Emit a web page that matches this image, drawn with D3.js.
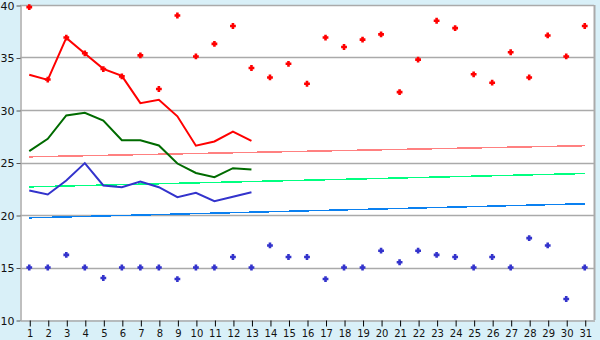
<!DOCTYPE html>
<html>
<head>
<meta charset="utf-8">
<script src="https://cdn.jsdelivr.net/npm/d3@7"></script>
<style>
  body { margin: 0; background: #d9f0f8; }
  svg { display: block; }
  text { font-family: "DejaVu Sans", Verdana, sans-serif; fill: #111; }
</style>
</head>
<body>
<svg id="chart" width="600" height="340"></svg>
<script>
const days = d3.range(1, 32);

// daily maximum (red dots)
const maxDots = [39.8, 32.9, 36.9, 35.4, 33.9, 33.2, 35.2, 32.0, 39.0, 35.1,
  36.3, 38.0, 34.0, 33.1, 34.4, 32.5, 36.9, 36.0, 36.7, 37.2,
  31.7, 34.8, 38.5, 37.8, 33.4, 32.6, 35.5, 33.1, 37.1, 35.1, 38.0];

// daily minimum (blue dots)
const minDots = [15.0, 15.0, 16.2, 15.0, 14.0, 15.0, 15.0, 15.0, 13.9, 15.0,
  15.0, 16.0, 15.0, 17.1, 16.0, 16.0, 13.9, 15.0, 15.0, 16.6,
  15.5, 16.6, 16.2, 16.0, 15.0, 16.0, 15.0, 17.8, 17.1, 12.0, 15.0];

// measured this month, days 1..13
const highLine = [33.35, 32.87, 36.87, 35.38, 33.92, 33.25, 30.65, 30.97, 29.4, 26.6, 27.0, 27.95, 27.05];
const meanLine = [26.08, 27.26, 29.48, 29.73, 29.0, 27.12, 27.12, 26.62, 24.9, 24.0, 23.6, 24.46, 24.33];
const lowLine  = [22.33, 21.95, 23.29, 24.94, 22.81, 22.65, 23.19, 22.65, 21.7, 22.11, 21.31, 21.73, 22.17];

// normal values, first and last day
const normalHigh = [25.54, 26.6];
const normalMean = [22.68, 23.95];
const normalLow  = [19.73, 21.07];

const yTicks = [10, 15, 20, 25, 30, 35, 40];

const width = 600, height = 340;
const margin = { top: 5, right: 6, bottom: 20, left: 20 };

const svg = d3.select("#chart");

const x = d3.scalePoint()
  .domain(days)
  .range([margin.left, width - margin.right])
  .padding(0.5);

const y = d3.scaleLinear()
  .domain([10, 40])
  .range([height - margin.bottom, margin.top]);

// plot background
svg.append("rect")
  .attr("x", margin.left)
  .attr("y", margin.top)
  .attr("width", width - margin.right - margin.left)
  .attr("height", height - margin.bottom - margin.top)
  .attr("fill", "#fff");

// grid
svg.append("g")
  .selectAll("line")
  .data(yTicks.slice(1))
  .enter().append("line")
  .attr("x1", margin.left)
  .attr("x2", width - margin.right)
  .attr("y1", d => Math.round(y(d)) + 0.5)
  .attr("y2", d => Math.round(y(d)) + 0.5)
  .style("stroke", "#aaa")
  .style("stroke-width", 1.5);

// right border
svg.append("line")
  .attr("x1", width - margin.right + 0.5)
  .attr("x2", width - margin.right + 0.5)
  .attr("y1", margin.top)
  .attr("y2", height - margin.bottom)
  .style("stroke", "#aaa")
  .style("stroke-width", 2);

// y axis
const yAxis = svg.append("g")
  .attr("transform", `translate(${margin.left + 0.5},0.5)`)
  .call(d3.axisLeft(y).tickValues(yTicks).tickSize(4).tickSizeOuter(0).tickPadding(2));
yAxis.select(".domain").style("stroke", "#aaa").style("stroke-width", 1.5);
yAxis.selectAll(".tick line").style("stroke", "#555");
yAxis.selectAll("text").style("font-size", "11px").style("fill", "#111");

// x axis
const xAxis = svg.append("g")
  .attr("transform", `translate(0.5,${height - margin.bottom + 0.5})`)
  .call(d3.axisBottom(x).tickSize(6).tickSizeOuter(0).tickPadding(3));
xAxis.select(".domain").style("stroke", "#aaa").style("stroke-width", 1.5);
xAxis.selectAll(".tick line").style("stroke", "#000");
xAxis.selectAll("text").style("font-size", "10px").style("fill", "#111");

// normal lines
const trends = [
  { vals: normalHigh, color: "#ff8080" },
  { vals: normalMean, color: "#00ff80" },
  { vals: normalLow, color: "#0a80f0" }
];
const ends = [days[0], days[days.length - 1]];
svg.append("g")
  .selectAll("line")
  .data(trends)
  .enter().append("line")
  .attr("x1", x(ends[0]))
  .attr("x2", x(ends[1]))
  .attr("y1", d => y(d.vals[0]))
  .attr("y2", d => y(d.vals[1]))
  .style("stroke", d => d.color)
  .style("stroke-width", 1.5)
  .style("shape-rendering", "crispEdges");

// measured lines
const line = d3.line()
  .x((d, i) => x(days[i]))
  .y(d => y(d));

[
  { vals: highLine, color: "#ff0000" },
  { vals: meanLine, color: "#006b00" },
  { vals: lowLine, color: "#3333cc" }
].forEach(s => {
  svg.append("path")
    .attr("d", line(s.vals))
    .attr("fill", "none")
    .style("stroke", s.color)
    .style("stroke-width", 2);
});

// dots: chunky plus marker
const a = 1.3, b = 2.9;
const plus = `M${-a},${-b}H${a}V${-a}H${b}V${a}H${a}V${b}H${-a}V${a}H${-b}V${-a}H${-a}Z`;
[
  { vals: maxDots, color: "#ff0000" },
  { vals: minDots, color: "#3333cc" }
].forEach(s => {
  svg.append("g")
    .selectAll("path")
    .data(s.vals)
    .enter().append("path")
    .attr("d", plus)
    .attr("transform", (d, i) => `translate(${x(days[i])},${y(d)})`)
    .attr("fill", s.color);
});
</script>
</body>
</html>
